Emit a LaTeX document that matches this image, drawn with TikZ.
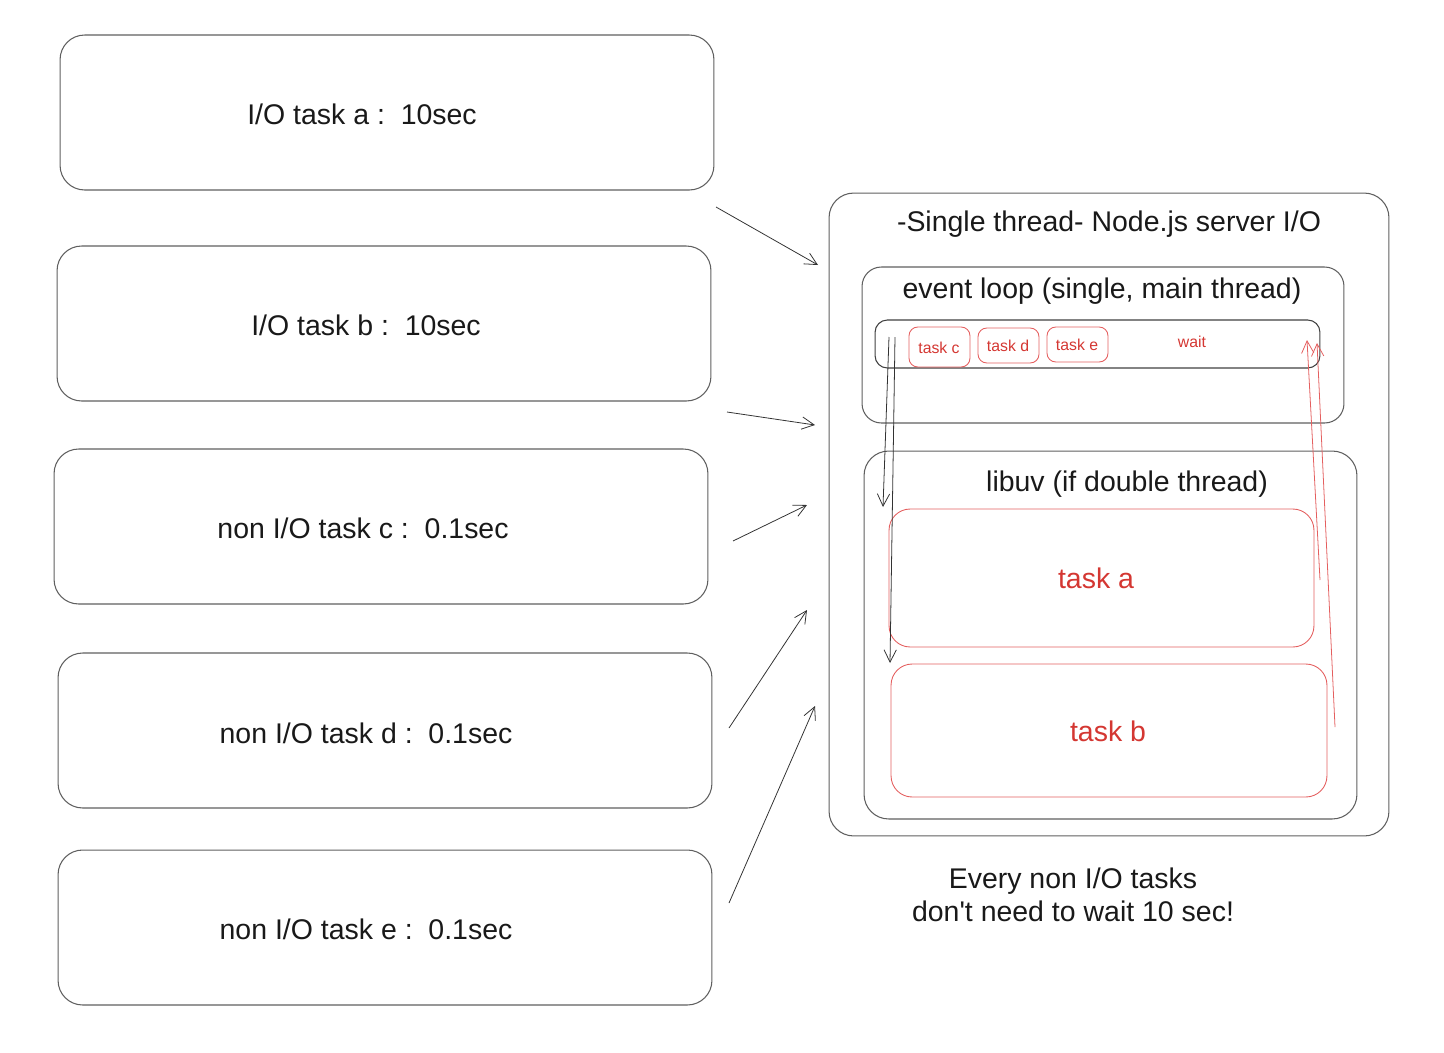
\documentclass[tikz,border=0pt]{standalone}
\usepackage{fontspec}
\setmainfont{Liberation Sans}
\usetikzlibrary{arrows.meta}
\definecolor{boxgray}{RGB}{95,95,95}
\definecolor{taskred}{RGB}{212,55,50}
\definecolor{linered}{RGB}{228,95,95}
\tikzset{
  iobox/.style={draw=boxgray, line width=0.6pt, rounded corners=14pt, minimum width=13.08cm, minimum height=3.1cm},
  bigtext/.style={font=\fontsize{16.2}{19}\selectfont, text=black!90, inner sep=0pt},
  smalltext/.style={font=\fontsize{9}{11}\selectfont, text=taskred, inner sep=0pt},
  redbox/.style={draw=linered, line width=0.5pt, rounded corners=12pt},
  flow/.style={line width=0.45pt, -{Straight Barb[length=7pt,width=7pt]}},
}
\begin{document}
\begin{tikzpicture}[x=0.02cm, y=-0.02cm]
    \useasboundingbox (0,0) rectangle (1444,1052);

    % ---- left column: incoming tasks
    \node[iobox] (boxA) at (387,112.5) {};
    \node[iobox] (boxB) at (384,323.5) {};
    \node[iobox] (boxC) at (381,526.5) {};
    \node[iobox] (boxD) at (385,730.5) {};
    \node[iobox] (boxE) at (385,927.5) {};
    \node[bigtext] (txtA) at (362,114) {I/O task a :\ \ 10sec};
    \node[bigtext] (txtB) at (366,325) {I/O task b :\ \ 10sec};
    \node[bigtext] (txtC) at (363,528) {non I/O task c :\ \ 0.1sec};
    \node[bigtext] (txtD) at (366,733) {non I/O task d :\ \ 0.1sec};
    \node[bigtext] (txtE) at (366,929) {non I/O task e :\ \ 0.1sec};

    % ---- server
    \node[draw=boxgray, line width=0.6pt, rounded corners=14pt, minimum width=11.2cm, minimum height=12.86cm] (server) at (1109,514.5) {};
    \node[bigtext] (serverTitle) at (1109,224) {-Single thread- Node.js server I/O};

    \node[draw=boxgray, line width=0.6pt, rounded corners=11pt, minimum width=9.64cm, minimum height=3.12cm] (loop) at (1103,345) {};
    \node[bigtext] (loopTitle) at (1102,291) {event loop (single, main thread)};
    \node[draw=black!75, line width=0.6pt, rounded corners=7pt, minimum width=8.9cm, minimum height=0.96cm] (queue) at (1097.5,344) {};
    \node[redbox, rounded corners=5pt, minimum width=1.22cm, minimum height=0.8cm] (qC) at (939.5,347) {};
    \node[redbox, rounded corners=5pt, minimum width=1.22cm, minimum height=0.7cm] (qD) at (1008.5,345.5) {};
    \node[redbox, rounded corners=5pt, minimum width=1.22cm, minimum height=0.7cm] (qE) at (1077.5,344.5) {};
    \node[smalltext] (tC) at (939,348) {task c};
    \node[smalltext] (tD) at (1008,346) {task d};
    \node[smalltext] (tE) at (1077,345) {task e};
    \node[smalltext] (wait) at (1192,342) {wait};

    \node[draw=boxgray, line width=0.6pt, rounded corners=14pt, minimum width=9.86cm, minimum height=7.36cm] (libuv) at (1110.5,635) {};
    \node[bigtext] (libuvTitle) at (1127,484) {libuv (if double thread)};
    \node[redbox, minimum width=8.5cm, minimum height=2.76cm] (workA) at (1101.5,578) {};
    \node[redbox, minimum width=8.72cm, minimum height=2.66cm] (workB) at (1109,730.5) {};
    \node[bigtext, text=taskred] (wA) at (1096,578) {task a};
    \node[bigtext, text=taskred] (wB) at (1108,731) {task b};

    \node[bigtext, align=center, font=\fontsize{16.2}{18.7}\selectfont] (note) at (1073,895) {Every non I/O tasks\\don\textquotesingle t need to wait 10 sec!};

    % ---- arrows into the server
    \coordinate (inA) at (716,207);  \coordinate (outA) at (818,265);
    \coordinate (inB) at (727,412);  \coordinate (outB) at (815,425);
    \coordinate (inC) at (733,541);  \coordinate (outC) at (807,505);
    \coordinate (inD) at (729,728);  \coordinate (outD) at (807,610);
    \coordinate (inE) at (729,903);  \coordinate (outE) at (815,706);
    \foreach \t in {A,B,C,D,E}
      \draw[flow, black!80] (in\t) -- (out\t);

    % ---- hand over to libuv and back
    \coordinate (downA) at (889,337); \coordinate (endA) at (883,507);
    \coordinate (downB) at (895,337); \coordinate (endB) at (890,663);
    \draw[flow, black!80] (downA) -- (endA);
    \draw[flow, black!80] (downB) -- (endB);
    \coordinate (backA) at (1320,580); \coordinate (topA) at (1307,340);
    \coordinate (backB) at (1335,727); \coordinate (topB) at (1317,343);
    \draw[flow, linered] (backA) -- (topA);
    \draw[flow, linered] (backB) -- (topB);
\end{tikzpicture}
\end{document}
